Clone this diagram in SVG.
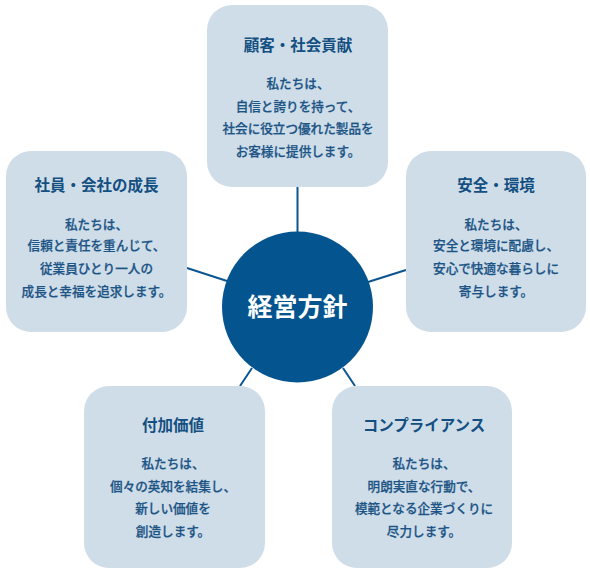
<svg xmlns="http://www.w3.org/2000/svg" width="590" height="570" viewBox="0 0 590 570">
<style>
.box{fill:#cfdde9}
.t{font-family:"Noto Sans CJK JP","Noto Sans CJK SC",sans-serif;font-size:15.5px;font-weight:bold;fill:#134f80;text-anchor:middle}
.b{font-family:"Noto Sans CJK JP","Noto Sans CJK SC",sans-serif;font-size:12.6px;font-weight:500;fill:#1b5485;stroke:#1b5485;stroke-width:0.25;text-anchor:middle}
.c{stroke:#0b5591;stroke-width:2;fill:none}
</style>
<rect width="590" height="570" fill="#ffffff"/>
<g id="connectors">
<line class="c" x1="297.5" y1="187" x2="297.5" y2="233"/>
<line class="c" x1="187" y1="268" x2="227" y2="281"/>
<line class="c" x1="368" y1="282" x2="406" y2="270"/>
<line class="c" x1="252" y1="368" x2="240" y2="386"/>
<line class="c" x1="343" y1="368" x2="355" y2="386"/>
</g>
<g id="top">
<rect class="box" x="207" y="5" width="181" height="182" rx="25"/>
<text class="t" x="298" y="50.5">顧客・社会貢献</text>
<text class="b" x="298" y="88">私たちは、</text>
<text class="b" x="298" y="111">自信と誇りを持って、</text>
<text class="b" x="298" y="133">社会に役立つ優れた製品を</text>
<text class="b" x="298" y="156">お客様に提供します。</text>
</g>
<g id="left">
<rect class="box" x="6" y="151" width="181" height="181" rx="25"/>
<text class="t" x="96.5" y="190.5">社員・会社の成長</text>
<text class="b" x="96.5" y="228.5">私たちは、</text>
<text class="b" x="96.5" y="250">信頼と責任を重んじて、</text>
<text class="b" x="96.5" y="272.5">従業員ひとり一人の</text>
<text class="b" x="96.5" y="296">成長と幸福を追求します。</text>
</g>
<g id="right">
<rect class="box" x="406" y="151" width="180" height="181" rx="25"/>
<text class="t" x="496" y="190.5">安全・環境</text>
<text class="b" x="496" y="228.5">私たちは、</text>
<text class="b" x="496" y="250">安全と環境に配慮し、</text>
<text class="b" x="496" y="272.5">安心で快適な暮らしに</text>
<text class="b" x="496" y="296">寄与します。</text>
</g>
<g id="bottom-left">
<rect class="box" x="84" y="386" width="181" height="182" rx="25"/>
<text class="t" x="173" y="430.5">付加価値</text>
<text class="b" x="173" y="467.5">私たちは、</text>
<text class="b" x="173" y="490.5">個々の英知を結集し、</text>
<text class="b" x="173" y="512.5">新しい価値を</text>
<text class="b" x="173" y="536">創造します。</text>
</g>
<g id="bottom-right">
<rect class="box" x="332" y="386" width="180" height="182" rx="25"/>
<text class="t" x="424" y="430.5">コンプライアンス</text>
<text class="b" x="424" y="467.5">私たちは、</text>
<text class="b" x="424" y="491">明朗実直な行動で、</text>
<text class="b" x="424" y="512.5">模範となる企業づくりに</text>
<text class="b" x="424" y="536">尽力します。</text>
</g>
<g id="center">
<circle cx="297.5" cy="307" r="75.5" fill="#04558f"/>
<text x="297.5" y="316" font-family="Noto Sans CJK JP,Noto Sans CJK SC,sans-serif" font-size="25" font-weight="bold" fill="#ffffff" text-anchor="middle">経営方針</text>
</g>
</svg>
